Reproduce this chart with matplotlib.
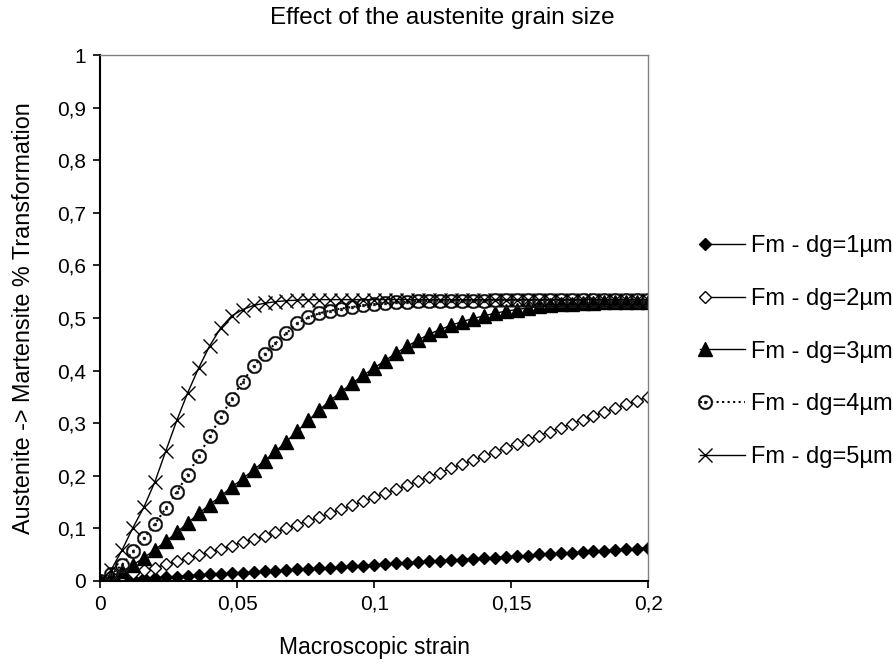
import matplotlib
matplotlib.use('Agg')
import matplotlib.pyplot as plt
from matplotlib.legend_handler import HandlerLine2D

plt.rcParams['font.family'] = ['Liberation Sans', 'DejaVu Sans']

# strain values (macroscopic strain), common to every series
strain = [0, 0.004, 0.008, 0.012, 0.016, 0.02, 0.024, 0.028, 0.032, 0.036,
          0.04, 0.044, 0.048, 0.052, 0.056, 0.06, 0.064, 0.068, 0.072, 0.076,
          0.08, 0.084, 0.088, 0.092, 0.096, 0.1, 0.104, 0.108, 0.112, 0.116,
          0.12, 0.124, 0.128, 0.132, 0.136, 0.14, 0.144, 0.148, 0.152, 0.156,
          0.16, 0.164, 0.168, 0.172, 0.176, 0.18, 0.184, 0.188, 0.192, 0.196, 0.2]

dg1 = [0, .001, .002, .004, .005, .006, .007, .008, .009, .011,
       .012, .013, .014, .015, .017, .018, .019, .020, .022, .023,
       .024, .025, .026, .028, .029, .030, .031, .033, .034, .035,
       .037, .038, .039, .040, .042, .043, .044, .046, .047, .048,
       .050, .051, .052, .053, .055, .056, .057, .059, .060, .061, .063]

dg2 = [0, .004, .009, .014, .020, .025, .031, .037, .043, .049,
       .055, .061, .067, .073, .079, .086, .093, .100, .107, .114,
       .121, .129, .136, .144, .151, .159, .167, .174, .182, .190,
       .198, .206, .214, .222, .229, .237, .245, .253, .261, .268,
       .276, .284, .291, .299, .306, .314, .321, .329, .336, .343, .350]

dg3 = [0, .008, .018, .030, .044, .059, .075, .092, .110, .128,
       .145, .161, .178, .194, .211, .228, .246, .265, .285, .305,
       .325, .343, .360, .376, .391, .405, .419, .433, .446, .458,
       .469, .478, .486, .493, .499, .504, .509, .513, .516, .519,
       .522, .524, .526, .527, .528, .529, .530, .530, .531, .531, .531]

dg4 = [0, .012, .030, .056, .081, .108, .138, .169, .202, .237,
       .275, .311, .346, .379, .408, .431, .452, .471, .490, .501,
       .509, .514, .518, .521, .524, .526, .528, .530, .531, .532,
       .533, .533, .533, .533, .533, .533, .534, .534, .534, .534,
       .534, .534, .534, .534, .534, .534, .534, .534, .534, .534, .534]

dg5 = [0, .020, .058, .101, .140, .188, .247, .305, .358, .405,
       .447, .481, .504, .516, .524, .528, .531, .533, .534, .535,
       .535, .535, .535, .535, .535, .535, .535, .535, .535, .535,
       .535, .535, .535, .535, .535, .535, .535, .535, .535, .535,
       .535, .535, .535, .535, .535, .535, .535, .535, .535, .535, .535]

labels = ['Fm - dg=1µm', 'Fm - dg=2µm', 'Fm - dg=3µm', 'Fm - dg=4µm', 'Fm - dg=5µm']
xticks = [0, 0.05, 0.1, 0.15, 0.2]
xtick_labels = ['0', '0,05', '0,1', '0,15', '0,2']
yticks = [0, 0.1, 0.2, 0.3, 0.4, 0.5, 0.6, 0.7, 0.8, 0.9, 1]
ytick_labels = ['0', '0,1', '0,2', '0,3', '0,4', '0,5', '0,6', '0,7', '0,8', '0,9', '1']


class MarkerLeft(HandlerLine2D):
    # legend marker near the left end of the line, like the original
    def create_artists(self, legend, orig_handle, xdescent, ydescent,
                       width, height, fontsize, trans):
        arts = super().create_artists(legend, orig_handle, xdescent, ydescent,
                                      width, height, fontsize, trans)
        ln = arts[0]
        x = ln.get_xdata()
        ln.set_xdata([x[0], x[0] + 0.12 * (x[-1] - x[0]), x[-1]])
        return arts


fig = plt.figure(figsize=(8.93, 6.66), dpi=100)
ax = fig.add_axes([0.112, 0.128, 0.614, 0.789])

ax.plot(strain, dg1, color='black', lw=1, marker='D', ms=6.5, mfc='black',
        mec='black', label=labels[0])
ax.plot(strain, dg2, color='black', lw=1, marker='D', ms=6.5, mfc='white',
        mec='black', mew=1, label=labels[1])
ax.plot(strain, dg3, color='black', lw=1, marker='^', ms=9.5, mfc='black',
        mec='black', label=labels[2])
ax.plot(strain, dg4, color='black', lw=1.5, ls=':', marker=r'$\odot$', ms=10.5,
        mfc='black', mec='#333333', mew=0.4, label=labels[3])
ax.plot(strain, dg5, color='black', lw=1, marker='x', ms=9.5, mew=1,
        mec='black', label=labels[4])

ax.set_xlim(0, 0.2)
ax.set_ylim(0, 1)
ax.set_xticks(xticks)
ax.set_xticklabels(xtick_labels)
ax.set_yticks(yticks)
ax.set_yticklabels(ytick_labels)
ax.tick_params(direction='out', length=5, width=1.2, labelsize=15, pad=5)

for s in ['left', 'bottom']:
    ax.spines[s].set_linewidth(1.5)
    ax.spines[s].set_color('black')
for s in ['top', 'right']:
    ax.spines[s].set_linewidth(1)
    ax.spines[s].set_color('#808080')

ax.set_xlabel('Macroscopic strain', fontsize=16.5, labelpad=16)
ax.set_ylabel('Austenite -> Martensite % Transformation', fontsize=16.8, labelpad=16)
fig.suptitle('Effect of the austenite grain size', x=0.495, y=0.99, fontsize=17.5)

handles = ax.get_lines()
fig.legend(handles=handles, labels=labels, loc='center left',
           bbox_to_anchor=(0.784, 0.472), frameon=False, fontsize=17,
           handlelength=1.9, handletextpad=0.25, labelspacing=1.3,
           borderpad=0, borderaxespad=0,
           handler_map={h: MarkerLeft(numpoints=1) for h in handles})

fig.savefig('out.png', dpi=100)
